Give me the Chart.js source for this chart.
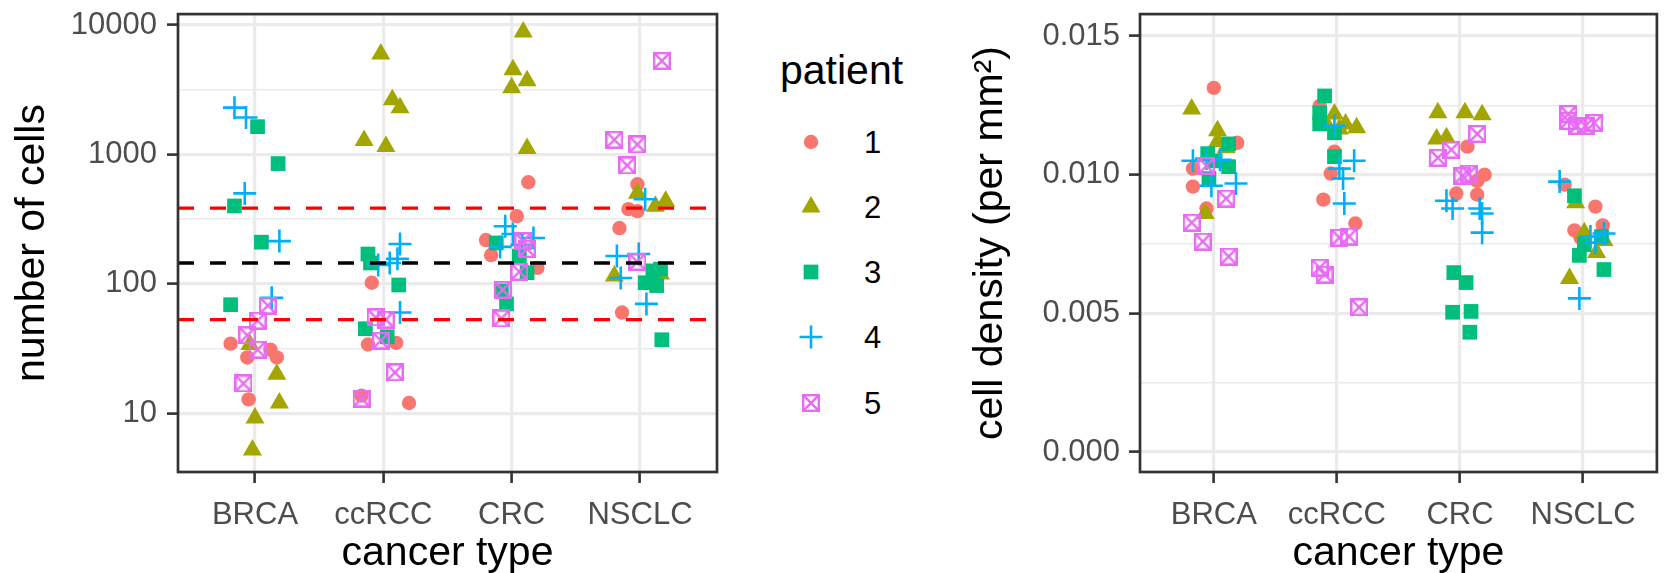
<!DOCTYPE html>
<html>
<head>
<meta charset="utf-8">
<script src="https://cdn.jsdelivr.net/npm/chart.js@4.4.1/dist/chart.umd.min.js"></script>
<style>
body { margin: 0; background: #fff; }
#wrap { position: relative; width: 1671px; height: 573px; font-family: "Liberation Sans", Arial, sans-serif; }
#wrap canvas { position: absolute; top: 0; }
.lg { position: absolute; line-height: 1; white-space: nowrap; color: #000; }
</style>
</head>
<body>
<div id="wrap">
  <canvas id="cells" width="740" height="573" style="left:0"></canvas>
  <canvas id="density" width="741" height="573" style="left:930px"></canvas>
  <div id="legend"></div>
</div>
<script>
var cancerTypes = ['BRCA', 'ccRCC', 'CRC', 'NSCLC'];
var patients = ['1', '2', '3', '4', '5'];
var countTicks = [10, 100, 1000, 10000];
var densityTicks = [0, 0.005, 0.01, 0.015];
var countRedLines = [52.9, 385];
var countBlackLine = 145;

// number of cells, [jittered cancer type position, value], BRCA .. NSCLC
var cellsP1 = [[0.81, 34.5], [0.94, 27], [1.12, 31], [1.17, 27], [0.95, 12.8],
  [1.91, 102], [1.88, 34], [2.10, 35], [1.83, 13.7], [2.20, 12],
  [3.13, 610], [3.04, 334], [2.80, 218], [2.84, 167], [3.20, 133],
  [3.98, 588], [3.91, 378], [3.98, 365], [3.84, 270], [3.86, 60]];
var cellsP2 = [[0.96, 34], [1.17, 20], [1.19, 12], [1.00, 9.2], [0.98, 5.2],
  [1.98, 5980], [2.07, 2650], [2.13, 2300], [1.85, 1280], [2.02, 1150],
  [3.09, 8840], [3.01, 4510], [3.12, 3710], [3.00, 3275], [3.12, 1110],
  [3.98, 501], [4.20, 435], [4.12, 398], [3.80, 115], [4.16, 119]];
var cellsP3 = [[1.02, 1640], [1.18, 850], [0.84, 400], [1.05, 210], [0.81, 69],
  [1.88, 170], [1.90, 145], [2.12, 98], [1.86, 45], [2.03, 39],
  [2.88, 207], [3.06, 164], [3.12, 122], [2.96, 70], [2.92, 88],
  [4.10, 126], [4.16, 130], [4.04, 102], [4.13, 97], [4.17, 37]];
var cellsP4 = [[0.84, 2300], [0.93, 1930], [0.92, 500], [1.19, 214], [1.13, 78],
  [2.13, 203], [2.11, 156], [1.96, 140], [2.05, 145], [2.13, 60],
  [2.95, 279], [3.01, 243], [3.17, 226], [2.91, 193], [3.08, 200],
  [4.04, 451], [3.82, 164], [3.99, 170], [3.85, 111], [4.05, 70]];
var cellsP5 = [[1.10, 68], [1.02, 52], [0.94, 40], [1.02, 31], [0.91, 17],
  [1.94, 55], [2.02, 53], [1.98, 36.5], [2.09, 20.7], [1.83, 13],
  [3.09, 214], [3.12, 186], [3.06, 124], [2.93, 90], [2.92, 54],
  [4.17, 5290], [3.80, 1300], [3.98, 1195], [3.90, 822], [3.98, 148]];

// cell density (per mm2)
var densP1 = [[1.00, .01313], [1.19, .01115], [0.83, .01022], [0.83, .00957], [0.94, .00878],
  [1.86, .01248], [1.98, .01083], [1.95, .01004], [1.89, .0091], [2.15, .00824],
  [3.06, .01101], [3.20, .0100], [3.14, .00978], [2.97, .00932], [3.14, .00928],
  [3.85, .00964], [4.10, .00885], [4.16, .00817], [3.98, .00773], [3.93, .00799]];
var densP2 = [[0.82, .01237], [1.03, .01158], [1.03, .01119], [1.10, .01097], [0.93, .0086],
  [1.98, .01219], [2.07, .01183], [2.16, .01169], [1.90, .01194], [2.02, .01165],
  [2.82, .01223], [3.04, .01223], [3.18, .01216], [2.81, .01129], [2.89, .01133],
  [3.94, .00899], [4.01, .00791], [4.17, .00763], [4.11, .00719], [3.89, .00626]];
var densP3 = [[1.12, .01111], [0.95, .01076], [1.12, .01029], [0.96, .00986], [1.01, .0105],
  [1.90, .01284], [1.86, .01223], [1.86, .01183], [1.98, .01151], [1.98, .01065],
  [2.95, .00647], [3.05, .00611], [2.94, .00504], [3.09, .00507], [3.08, .00432],
  [3.93, .00924], [4.15, .00777], [4.01, .00748], [3.97, .00709], [4.17, .00658]];
var densP4 = [[0.83, .0105], [0.94, .01058], [1.05, .01054], [0.98, .0096], [1.18, .00968],
  [1.98, .01176], [2.14, .0105], [2.02, .01022], [2.05, .00986], [2.06, .00896],
  [2.89, .00906], [2.94, .00878], [3.16, .00878], [3.18, .0086], [3.18, .00791],
  [3.81, .00975], [4.17, .00788], [4.06, .00777], [4.10, .00755], [3.97, .00554]];
var densP5 = [[0.94, .01032], [1.10, .00914], [0.82, .00827], [0.91, .00759], [1.12, .00705],
  [2.02, .00773], [2.10, .00777], [1.86, .00665], [1.90, .0064], [2.18, .00522],
  [3.14, .01147], [2.93, .0109], [2.82, .01061], [3.02, .00996], [3.07, .01004],
  [3.88, .01219], [3.88, .01194], [3.95, .01176], [4.02, .01176], [4.09, .01187]];

var colors = ['#F8766D', '#A3A500', '#00BF7D', '#00B0F6', '#E76BF3'];
var fontFamily = '"Liberation Sans", Arial, sans-serif';

// square with a cross inside (ggplot shape 7)
function boxCross(color) {
    var c = document.createElement('canvas');
    c.width = 18; c.height = 18;
    var g = c.getContext('2d');
    g.strokeStyle = color;
    g.lineWidth = 2.4;
    g.strokeRect(1.2, 1.2, 15.6, 15.6);
    g.beginPath();
    g.moveTo(1.2, 1.2); g.lineTo(16.8, 16.8);
    g.moveTo(16.8, 1.2); g.lineTo(1.2, 16.8);
    g.stroke();
    return c;
}

var shapes = [
    {pointStyle: 'circle', pointRadius: 7.2, pointBorderWidth: 0},
    {pointStyle: 'triangle', pointRadius: 11, pointBorderWidth: 0},
    {pointStyle: 'rect', pointRadius: 10.4, pointBorderWidth: 0},
    {pointStyle: 'cross', pointRadius: 11.5, pointBorderWidth: 2.6},
    {pointStyle: boxCross(colors[4]), pointRadius: 9, pointBorderWidth: 0}
];

function pointSets(series) {
    return series.map(function(s, i) {
        return Object.assign({
            label: patients[i],
            data: s.map(function(p) { return {x: p[0], y: p[1]}; }),
            pointBackgroundColor: colors[i],
            pointBorderColor: colors[i],
            order: 5 - i
        }, shapes[i]);
    });
}

function hline(v, color) {
    return {
        data: [{x: 0.4, y: v}, {x: 4.6, y: v}],
        showLine: true,
        borderColor: color,
        borderWidth: 3.3,
        borderDash: [16, 16],
        pointRadius: 0,
        order: 0
    };
}

// full box round the panel
var panelBorder = {
    id: 'panelBorder',
    afterDatasetsDraw: function(chart) {
        var a = chart.chartArea, ctx = chart.ctx;
        ctx.save();
        ctx.strokeStyle = '#333333';
        ctx.lineWidth = 2.7;
        ctx.strokeRect(a.left, a.top, a.right - a.left, a.bottom - a.top);
        ctx.restore();
    }
};

function catAxis() {
    return {
        type: 'linear', min: 0.4, max: 4.6, bounds: 'data',
        afterBuildTicks: function(s) {
            s.ticks = cancerTypes.map(function(c, i) { return {value: i + 1}; });
        },
        afterFit: function(s) { s.height = 101; s.paddingLeft = 0; s.paddingRight = 0; },
        ticks: {
            callback: function(v) { return cancerTypes[Math.round(v) - 1]; },
            color: '#4d4d4d', font: {family: fontFamily, size: 31},
            padding: 14, maxRotation: 0, autoSkip: false
        },
        grid: {color: '#ebebeb', lineWidth: 3.2, tickLength: 11, tickColor: '#333333', tickWidth: 2.6},
        border: {display: false},
        title: {display: true, text: 'cancer type', color: '#000',
            font: {family: fontFamily, size: 41, lineHeight: 1}, padding: {top: 0, bottom: -1}}
    };
}

function valueAxis(type, min, max, majors, allTicks, fmt, width, padding, title, titlePad) {
    var isMajor = function(ctx) {
        if (!ctx.tick) return true;
        return majors.some(function(m) { return Math.abs(m - ctx.tick.value) < 1e-9; });
    };
    return {
        type: type, min: min, max: max, bounds: 'data',
        afterBuildTicks: function(s) {
            s.ticks = allTicks.map(function(v) { return {value: v}; });
        },
        afterFit: function(s) { s.width = width; s.paddingTop = 0; s.paddingBottom = 0; },
        ticks: {
            callback: function(v) {
                var m = majors.some(function(x) { return Math.abs(x - v) < 1e-9; });
                return m ? fmt(v) : '';
            },
            color: '#4d4d4d', font: {family: fontFamily, size: 31},
            padding: padding, autoSkip: false
        },
        grid: {
            color: '#ebebeb',
            lineWidth: function(ctx) { return isMajor(ctx) ? 3.2 : 1.6; },
            tickLength: 11,
            tickWidth: 2.6,
            tickColor: function(ctx) { return isMajor(ctx) ? '#333333' : 'rgba(0,0,0,0)'; }
        },
        border: {display: false},
        title: {display: true, text: title, color: '#000',
            font: {family: fontFamily, size: 41}, padding: {top: titlePad, bottom: 0}}
    };
}

var baseOptions = function(scales, padRight) {
    return {
        responsive: false,
        animation: false,
        events: [],
        layout: {padding: {top: 12, right: padRight, bottom: 0, left: 0}},
        plugins: {legend: {display: false}, tooltip: {enabled: false}},
        scales: scales
    };
};

// minor gridlines sit halfway between the majors
var countAll = [];
countTicks.forEach(function(v, i) {
    countAll.push(v);
    if (i < countTicks.length - 1) countAll.push(v * Math.sqrt(10));
});
var densAll = [];
densityTicks.forEach(function(v, i) {
    densAll.push(v);
    if (i < densityTicks.length - 1) densAll.push((v + densityTicks[i + 1]) / 2);
});

new Chart(document.getElementById('cells').getContext('2d'), {
    type: 'scatter',
    data: {
        datasets: [hline(countRedLines[1], '#ff0000'), hline(countBlackLine, '#000000'),
            hline(countRedLines[0], '#ff0000')]
            .concat(pointSets([cellsP1, cellsP2, cellsP3, cellsP4, cellsP5]))
    },
    options: baseOptions({
        x: catAxis(),
        y: valueAxis('logarithmic', 3.517, 12150, countTicks, countAll,
            function(v) { return String(v); }, 178, 10, 'number of cells', 8)
    }, 23),
    plugins: [panelBorder]
});

new Chart(document.getElementById('density').getContext('2d'), {
    type: 'scatter',
    data: {datasets: pointSets([densP1, densP2, densP3, densP4, densP5])},
    options: baseOptions({
        x: catAxis(),
        y: valueAxis('linear', -0.00072, 0.01579, densityTicks, densAll,
            function(v) { return v.toFixed(3); }, 210, 9, 'cell density (per mm\u00b2)', 36)
    }, 5),
    plugins: [panelBorder]
});

// legend
function drawShape(g, i, x, y) {
    g.fillStyle = colors[i];
    g.strokeStyle = colors[i];
    if (i === 0) {
        g.beginPath(); g.arc(x, y, 7.2, 0, Math.PI * 2); g.fill();
    } else if (i === 1) {
        var r = 11;
        g.beginPath();
        g.moveTo(x, y - r);
        g.lineTo(x + r * Math.sin(Math.PI * 2 / 3), y + r / 2);
        g.lineTo(x - r * Math.sin(Math.PI * 2 / 3), y + r / 2);
        g.closePath(); g.fill();
    } else if (i === 2) {
        g.fillRect(x - 7.35, y - 7.35, 14.7, 14.7);
    } else if (i === 3) {
        g.lineWidth = 2.6;
        g.beginPath();
        g.moveTo(x - 11.5, y); g.lineTo(x + 11.5, y);
        g.moveTo(x, y - 11.5); g.lineTo(x, y + 11.5);
        g.stroke();
    } else {
        g.drawImage(shapes[4].pointStyle, x - 9, y - 9);
    }
}

var legend = document.getElementById('legend');
var lgTitle = document.createElement('div');
lgTitle.className = 'lg';
lgTitle.style.cssText = 'left:780px;top:50px;font-size:41px;';
lgTitle.textContent = 'patient';
legend.appendChild(lgTitle);
var itemY = [142, 207, 272, 337, 403];
patients.forEach(function(p, i) {
    var c = document.createElement('canvas');
    c.width = 30; c.height = 30;
    c.style.cssText = 'position:absolute;left:796px;top:' + (itemY[i] - 15) + 'px;';
    drawShape(c.getContext('2d'), i, 15, 15);
    legend.appendChild(c);
    var t = document.createElement('div');
    t.className = 'lg';
    t.style.cssText = 'left:864px;top:' + (itemY[i] - 15) + 'px;font-size:31px;';
    t.textContent = p;
    legend.appendChild(t);
});
</script>
</body>
</html>
